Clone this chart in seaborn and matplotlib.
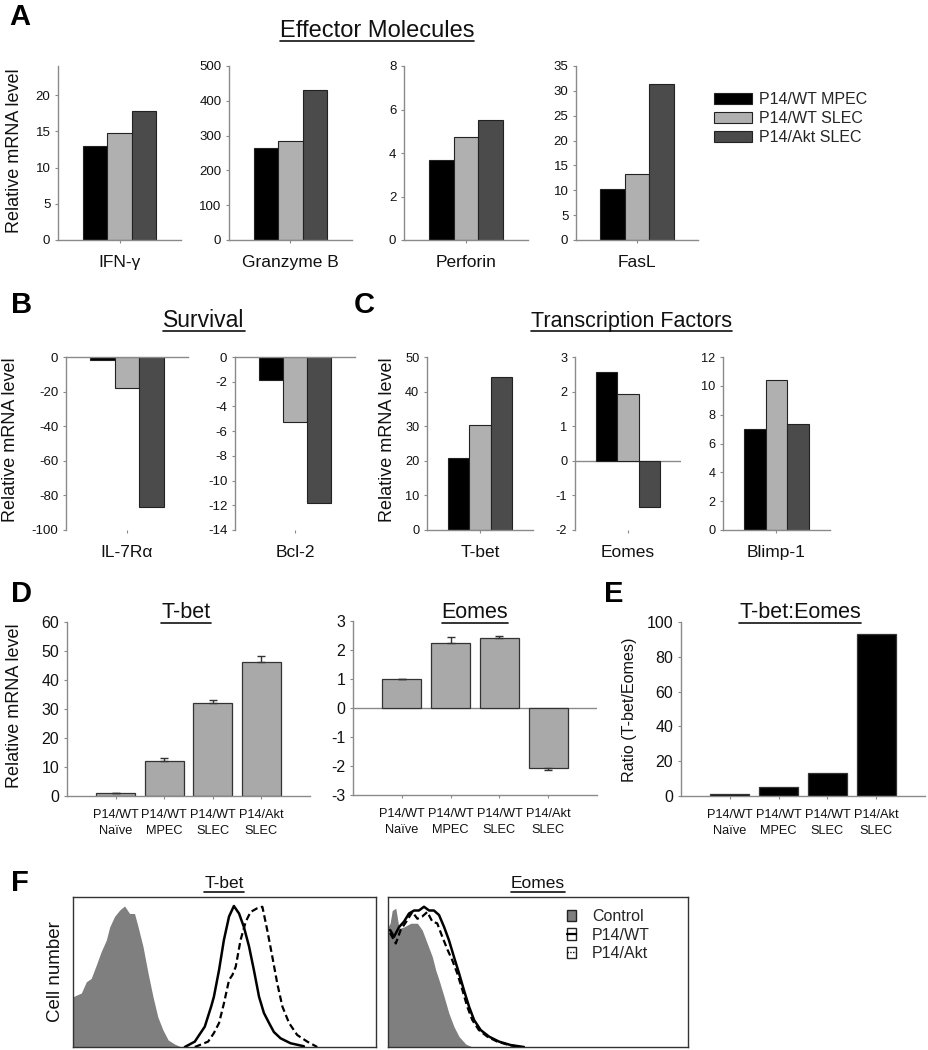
import numpy as np
import pandas as pd
import matplotlib
matplotlib.use("Agg")
import matplotlib.pyplot as plt
import seaborn as sns
from matplotlib.patches import Patch
from matplotlib.lines import Line2D

sns.set_theme(style="white")
plt.rcParams["font.family"] = ["Liberation Sans", "DejaVu Sans"]

W, H = 929, 1050

# ---------------- data ----------------
groups = ["P14/WT MPEC", "P14/WT SLEC", "P14/Akt SLEC"]
group_colors = ["#000000", "#b0b0b0", "#4b4b4b"]

effector_genes = ["IFN-γ", "Granzyme B", "Perforin", "FasL"]
ifn_g = [13.0, 14.8, 17.8]
granzyme_b = [264, 284, 430]
perforin = [3.7, 4.74, 5.53]
fasl = [10.2, 13.3, 31.3]

survival_genes = ["IL-7Rα", "Bcl-2"]
il7ra = [-1.5, -17.7, -86.8]
bcl2 = [-1.9, -5.3, -11.8]

tf_genes = ["T-bet", "Eomes", "Blimp-1"]
tbet_tf = [20.8, 30.4, 44.2]
eomes_tf = [2.58, 1.94, -1.34]
blimp1_tf = [7.03, 10.37, 7.38]

cell_types = ["P14/WT\nNaïve", "P14/WT\nMPEC", "P14/WT\nSLEC", "P14/Akt\nSLEC"]
tbet_d = [0.9, 12.1, 32.2, 46.1]
tbet_d_err = [0.1, 1.15, 1.0, 2.1]
eomes_d = [1.0, 2.23, 2.40, -2.06]
eomes_d_err = [0.0, 0.22, 0.09, 0.09]
ratio_e = [1.3, 5.4, 13.4, 93.1]

# flow histograms (x: fluorescence, 0-100 scale; y: % of max)
hist_labels = ["Control", "P14/WT", "P14/Akt"]
tbet_ctrl_x = [0, 2.75, 4.4, 6.0, 7.7, 9.3, 11.0, 12.1, 13.7, 15.4, 17.0, 18.7, 20.3, 21.5, 23.1, 24.8, 26.4, 28.0, 29.7, 31.4, 33.5, 35.7]
tbet_ctrl_y = [33.5, 36, 43.5, 45.7, 54.7, 63.6, 71.3, 80, 87, 91.3, 94, 89, 89, 80, 67, 49, 33.5, 20, 11.3, 4.7, 2, 0]
tbet_wt_x = [36.9, 40.2, 43.5, 45.6, 46.5, 48.2, 49.8, 51.5, 53.1, 54.8, 56.4, 58.1, 59.7, 61.4, 63.0, 64.7, 66.3, 68.5, 71.8, 76.2]
tbet_wt_y = [0, 3.6, 13.6, 27, 33.5, 51.3, 71.3, 87, 94, 89, 80, 67, 51.3, 33.5, 22.7, 16, 10, 5.8, 2.5, 0.5]
tbet_akt_x = [40.2, 44.6, 46.5, 48.2, 49.8, 51.5, 52.6, 53.7, 55.3, 57.0, 58.6, 60.8, 62.5, 64.1, 65.8, 67.4, 69.1, 71.3, 74.0, 77.3, 80.6]
tbet_akt_y = [0, 3.6, 9.3, 16, 29, 44.7, 48, 53.5, 71.3, 83.5, 90, 92.5, 93.5, 78, 60, 42.5, 27, 16, 8, 3.6, 0]
eomes_ctrl_x = [0, 0.7, 1.4, 2.6, 3.7, 5.3, 7.6, 9.8, 11.4, 13.1, 14.8, 15.9, 17.0, 18.7, 20.3, 22.0, 23.7, 25.9, 28.1]
eomes_ctrl_y = [80, 82.5, 91, 92.5, 79, 80, 82.5, 82.5, 78, 69, 60, 51.3, 44.7, 33.5, 22.5, 13.5, 6.9, 2, 0]
eomes_wt_x = [0.7, 2.0, 3.7, 5.3, 7.0, 8.7, 10.3, 12.0, 13.7, 15.3, 17.0, 18.7, 20.3, 22.0, 23.7, 25.3, 27.0, 28.7, 30.9, 33.7, 37.0, 40.9, 45.3]
eomes_wt_y = [78, 73.5, 80, 83.5, 89, 91, 91, 93.5, 91, 91, 88, 80, 71.3, 60, 49, 38, 27, 18, 11.3, 6.9, 3.6, 1.3, 0]
eomes_akt_x = [0.7, 2.6, 4.2, 6.4, 8.1, 9.8, 11.4, 13.1, 14.8, 16.4, 18.1, 19.8, 21.4, 23.1, 24.8, 26.4, 28.1, 30.3, 33.1, 36.4, 40.3, 44.2]
eomes_akt_y = [76, 69, 78, 84.5, 90, 85.5, 87, 90, 83.5, 82.5, 73.5, 65, 58, 49, 38, 27, 18, 11.3, 6.9, 3.6, 1.3, 0]

# ---------------- helpers ----------------
fig = plt.figure(figsize=(W / 100, H / 100), dpi=100)
SP = "#8a8a8a"
TXT = "#111111"


def add_ax(x0, y0, x1, y1):
    return fig.add_axes([x0 / W, 1 - y1 / H, (x1 - x0) / W, (y1 - y0) / H])


def style(ax, yticks, ylim, ysize, bottom=True, top=False):
    ax.set_ylim(*ylim)
    ax.set_yticks(yticks)
    ax.set_yticklabels([f"{t:g}" for t in yticks])
    for s in ["left", "right", "top", "bottom"]:
        ax.spines[s].set_color(SP)
        ax.spines[s].set_linewidth(1.0)
    ax.spines["right"].set_visible(False)
    ax.spines["top"].set_visible(top)
    ax.spines["bottom"].set_visible(bottom)
    ax.tick_params(axis="y", left=True, direction="out", length=2.5, width=0.8,
                   color=SP, labelsize=ysize, pad=3, labelcolor=TXT)
    ax.set_xlabel("")
    ax.set_ylabel("")


underlined = []


def utitle(xc, yb, s, size, uoff=4):
    t = fig.text(xc / W, 1 - yb / H, s, ha="center", va="baseline", fontsize=size, color=TXT)
    underlined.append((t, yb + uoff))


def plabel(x, yb, s):
    fig.text(x / W, 1 - yb / H, s, ha="left", va="baseline", fontsize=21, fontweight="bold", color="black")


def ylab(xc, yc, s, size):
    fig.text(xc / W, 1 - yc / H, s, ha="center", va="center", rotation=90, fontsize=size, color=TXT)


def group_bars(ax, gene, vals):
    df = pd.DataFrame({"gene": [gene] * len(groups), "group": groups, "value": vals})
    sns.barplot(data=df, x="gene", y="value", hue="group", hue_order=groups,
                palette=group_colors, width=0.6, saturation=1, errorbar=None,
                edgecolor="#222222", linewidth=0.8, legend=False, ax=ax)
    ax.set_xlim(-0.5, 0.5)
    ax.tick_params(axis="x", bottom=True, direction="out", length=2.5, width=0.8,
                   color=SP, labelsize=12.5, pad=8, labelcolor=TXT)


# ---------------- Panel A ----------------
plabel(9, 25, "A")
utitle(377, 37, "Effector Molecules", 17)
a_specs = [
    (effector_genes[0], ifn_g, (58, 181), [0, 5, 10, 15, 20], (0, 24)),
    (effector_genes[1], granzyme_b, (229, 352), [0, 100, 200, 300, 400, 500], (0, 500)),
    (effector_genes[2], perforin, (404, 528), [0, 2, 4, 6, 8], (0, 8)),
    (effector_genes[3], fasl, (576, 698), [0, 5, 10, 15, 20, 25, 30, 35], (0, 35)),
]
for gene, vals, (x0, x1), yt, yl in a_specs:
    ax = add_ax(x0, 66, x1, 240)
    group_bars(ax, gene, vals)
    style(ax, yt, yl, 9.5)
ylab(15, 151, "Relative mRNA level", 13)

handles = [Patch(facecolor=c, edgecolor="#222222", linewidth=0.8) for c in group_colors]
fig.legend(handles, groups, loc="upper left", bbox_to_anchor=(714 / W, 1 - 92 / H),
           frameon=False, fontsize=11.5, handlelength=2.4, handleheight=0.62,
           handletextpad=0.4, labelspacing=0.25, borderpad=0, borderaxespad=0)

# ---------------- Panel B ----------------
plabel(11, 313, "B")
utitle(204, 327, "Survival", 16.5)
b_specs = [
    (survival_genes[0], il7ra, (66, 188), list(range(-100, 1, 20)), (-100, 0)),
    (survival_genes[1], bcl2, (235, 355), list(range(-14, 1, 2)), (-14, 0)),
]
for gene, vals, (x0, x1), yt, yl in b_specs:
    ax = add_ax(x0, 357, x1, 530)
    group_bars(ax, gene, vals)
    style(ax, yt, yl, 9.5, bottom=False, top=True)
ylab(11, 440, "Relative mRNA level", 13)

# ---------------- Panel C ----------------
plabel(354, 313, "C")
utitle(632, 327, "Transcription Factors", 15.5)
c_specs = [
    (tf_genes[0], tbet_tf, (427, 533), list(range(0, 51, 10)), (0, 50), True),
    (tf_genes[1], eomes_tf, (575, 681), list(range(-2, 4)), (-2, 3), False),
    (tf_genes[2], blimp1_tf, (723, 830), list(range(0, 13, 2)), (0, 12), True),
]
for gene, vals, (x0, x1), yt, yl, bot in c_specs:
    ax = add_ax(x0, 357, x1, 530)
    group_bars(ax, gene, vals)
    style(ax, yt, yl, 9.2, bottom=bot)
    if not bot:
        ax.axhline(0, color=SP, lw=1.0, zorder=0.5)
ylab(388, 440, "Relative mRNA level", 13)

# ---------------- Panel D ----------------
plabel(11, 602, "D")


def cell_bars(ax, vals, color, errs=None):
    df = pd.DataFrame({"cell": cell_types, "value": vals})
    sns.barplot(data=df, x="cell", y="value", order=cell_types, color=color, width=0.8,
                saturation=1, errorbar=None, edgecolor="#333333", linewidth=0.9, ax=ax)
    if errs is not None:
        lo = [e if v < 0 else 0 for v, e in zip(vals, errs)]
        hi = [e if v >= 0 else 0 for v, e in zip(vals, errs)]
        ax.errorbar(np.arange(len(vals)), vals, yerr=[lo, hi], fmt="none",
                    ecolor="#333333", elinewidth=1.0, capsize=3, capthick=1.0, zorder=3)
    ax.set_xlim(-1, len(vals))
    ax.tick_params(axis="x", bottom=True, direction="out", length=2.5, width=0.8,
                   color=SP, labelsize=9.2, pad=7, labelcolor=TXT)
    for lbl in ax.get_xticklabels():
        lbl.set_linespacing(1.45)


ax = add_ax(67, 622, 310, 796)
cell_bars(ax, tbet_d, "#a9a9a9", tbet_d_err)
style(ax, list(range(0, 61, 10)), (0, 60), 11.5)
utitle(186, 618, "T-bet", 15.5, 5)
ylab(15, 706, "Relative mRNA level", 13)

ax = add_ax(353, 621, 597, 795)
cell_bars(ax, eomes_d, "#a9a9a9", eomes_d_err)
style(ax, list(range(-3, 4)), (-3, 3), 11.5)
ax.axhline(0, color=SP, lw=1.0, zorder=0.5)
utitle(475, 618, "Eomes", 15.5, 5)

# ---------------- Panel E ----------------
plabel(604, 602, "E")
ax = add_ax(681, 622, 925, 796)
cell_bars(ax, ratio_e, "#000000")
style(ax, list(range(0, 101, 20)), (0, 100), 11.5)
utitle(800, 618, "T-bet:Eomes", 15.5, 5)
ylab(630, 710, "Ratio (T-bet/Eomes)", 11.6)

# ---------------- Panel F ----------------
plabel(11, 891, "F")
hist_sets = [
    ((73, 376), 224, "T-bet", (tbet_ctrl_x, tbet_ctrl_y), (tbet_wt_x, tbet_wt_y), (tbet_akt_x, tbet_akt_y)),
    ((388, 688), 538, "Eomes", (eomes_ctrl_x, eomes_ctrl_y), (eomes_wt_x, eomes_wt_y), (eomes_akt_x, eomes_akt_y)),
]
for (x0, x1), xc, name, ctrl, wt, akt in hist_sets:
    ax = add_ax(x0, 897, x1, 1047)
    ax.fill_between(ctrl[0], ctrl[1], 0, color="#7f7f7f", lw=0, zorder=1)
    sns.lineplot(x=wt[0], y=wt[1], ax=ax, color="black", lw=1.8, sort=False, estimator=None, zorder=3)
    sns.lineplot(x=akt[0], y=akt[1], ax=ax, color="black", lw=1.6, linestyle=(0, (3, 1.6)),
                 sort=False, estimator=None, zorder=3)
    ax.set_xlim(0, 100)
    ax.set_ylim(0, 100)
    ax.set_xticks([])
    ax.set_yticks([])
    ax.set_xlabel("")
    ax.set_ylabel("")
    for s in ax.spines.values():
        s.set_visible(True)
        s.set_color("#333333")
        s.set_linewidth(1.0)
    utitle(xc, 888, name, 12.5, 4)
ylab(56, 972, "Cell number", 13.5)

f_handles = [
    Patch(facecolor="#7f7f7f", edgecolor="#222222", linewidth=1.0),
    (Patch(facecolor="white", edgecolor="#222222", linewidth=1.0), Line2D([], [], color="black", lw=1.6)),
    (Patch(facecolor="white", edgecolor="#222222", linewidth=1.0), Line2D([], [], color="black", lw=1.0, linestyle=(0, (1, 1)))),
]
fig.legend(f_handles, hist_labels, loc="upper left", bbox_to_anchor=(567 / W, 1 - 909 / H),
           frameon=False, fontsize=11.5, handlelength=0.55, handleheight=0.75,
           handletextpad=1.0, labelspacing=0.22, borderpad=0, borderaxespad=0)

# underlines for titles
r = fig.canvas.get_renderer()
for t, yu in underlined:
    bb = t.get_window_extent(renderer=r)
    fig.add_artist(Line2D([bb.x0 / W, bb.x1 / W], [1 - yu / H, 1 - yu / H],
                          transform=fig.transFigure, color=TXT, lw=1.2))

fig.savefig("out.png", dpi=100, facecolor="white")
